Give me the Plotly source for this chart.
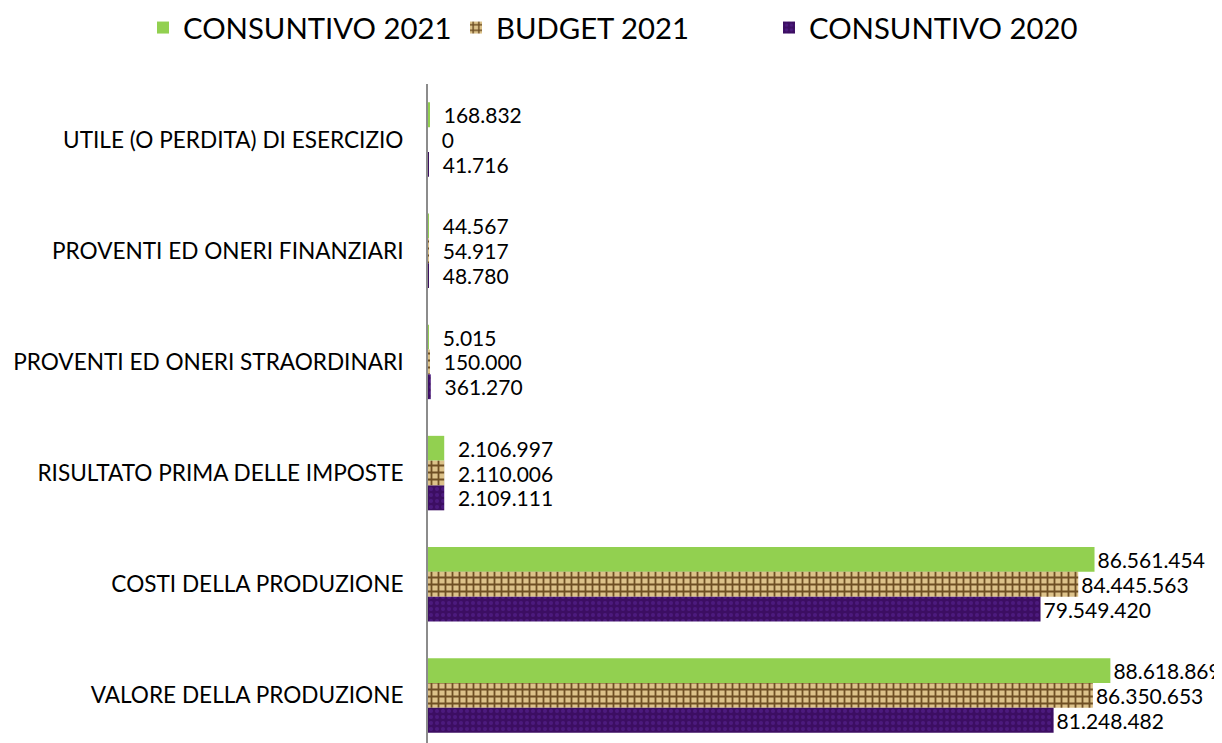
import plotly.graph_objects as go

categories = [
    "UTILE (O PERDITA) DI ESERCIZIO",
    "PROVENTI ED ONERI FINANZIARI",
    "PROVENTI ED ONERI STRAORDINARI",
    "RISULTATO PRIMA DELLE IMPOSTE",
    "COSTI DELLA PRODUZIONE",
    "VALORE DELLA PRODUZIONE",
]
consuntivo_2021 = [168832, 44567, 5015, 2106997, 86561454, 88618869]
budget_2021 = [0, 54917, 150000, 2110006, 84445563, 86350653]
consuntivo_2020 = [41716, 48780, 361270, 2109111, 79549420, 81248482]

series = [
    ("CONSUNTIVO 2021", consuntivo_2021, dict(color="#92d050")),
    ("BUDGET 2021", budget_2021, dict(color="#d4b67a",
        pattern=dict(shape="+", fgcolor="#6e4f24", bgcolor="#dcc28a", size=7, solidity=0.45))),
    ("CONSUNTIVO 2020", consuntivo_2020, dict(color="#41106c",
        pattern=dict(shape=".", fgcolor="#4c1a7e", bgcolor="#3c0e62", size=6, solidity=0.35))),
]

def fmt(v):
    s = f"{v:,}".replace(",", ".")
    return ("\u00a0\u00a0" + s) if v < 10_000_000 else s

FONT = "Lato"
fig = go.Figure()
for name, vals, marker in series:
    fig.add_trace(go.Bar(
        name=name, y=categories, x=vals, orientation="h",
        marker=dict(line=dict(width=0), **marker),
        text=[fmt(v) for v in vals], textposition="outside",
        textfont=dict(family=FONT, size=21, color="#000000"),
        constraintext="none", cliponaxis=False,
    ))

L, R, T, B = 420, 32, 76, 0
PW = 1222 - L - R
PH = 743 - T - B
fig.update_layout(
    template="none",
    width=1222, height=743,
    margin=dict(l=L, r=R, t=T, b=B, autoexpand=False),
    paper_bgcolor="white", plot_bgcolor="white",
    barmode="group", bargap=0.33, bargroupgap=0,
    font=dict(family=FONT, size=22, color="#000000"),
    legend=dict(orientation="h", x=(135 - L) / PW, xanchor="left",
                y=1 + (T + 6) / PH, yanchor="top",
                font=dict(family=FONT, size=29.3), itemwidth=30,
                entrywidth=268, entrywidthmode="pixels",
                traceorder="normal", bgcolor="rgba(0,0,0,0)"),
    showlegend=True,
)
fig.update_xaxes(range=[0, 100000000], showgrid=False, zeroline=False,
                 showticklabels=False, showline=False, ticks="")
fig.update_yaxes(autorange="reversed", showgrid=False, zeroline=False, showline=True,
                 linecolor="#8c8c8c", linewidth=2, ticks="",
                 ticklabelstandoff=18, tickfont=dict(family=FONT, size=22.6))

fig.write_html("out.html")
